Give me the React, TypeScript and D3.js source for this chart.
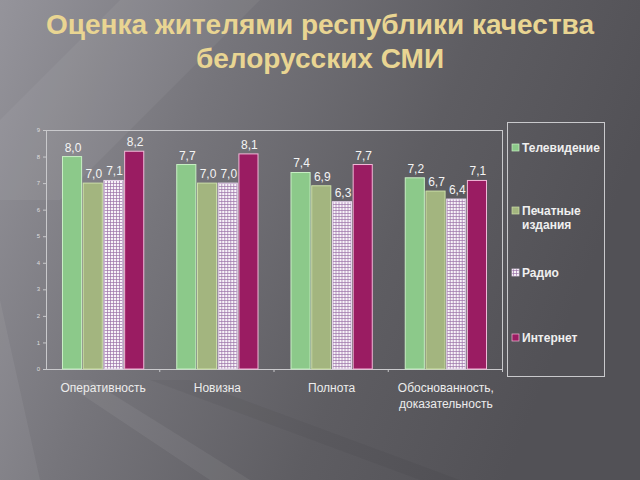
import * as d3 from "d3";

const categories = ["Оперативность", "Новизна", "Полнота", "Обоснованность, доказательность"];
const categoryLines = [["Оперативность"], ["Новизна"], ["Полнота"], ["Обоснованность,", "доказательность"]];
const seriesNames = ["Телевидение", "Печатные издания", "Радио", "Интернет"];
const legendLines = [["Телевидение"], ["Печатные", "издания"], ["Радио"], ["Интернет"]];
const tv = [8.0, 7.7, 7.4, 7.2];
const print = [7.0, 7.0, 6.9, 6.7];
const radio = [7.1, 7.0, 6.3, 6.4];
const internet = [8.2, 8.1, 7.7, 7.1];
const yTicks = [0, 1, 2, 3, 4, 5, 6, 7, 8, 9];

const W = 640;
const H = 480;
const PLOT = { left: 46, right: 503, top: 130, bottom: 369 };
const fills = ["#8cc98a", "#a3b57f", "url(#radioPat)", "#9a1c62"];
const strokes = ["#c8efc4", "#cde0a8", "#e8d8ee", "#f2b8d8"];
const legendSwatch = ["#8cc98a", "#a3b57f", "url(#radioPat)", "#9a1c62"];
const legendY = [148, 211, 273, 338];

export default function App() {
  const values = [tv, print, radio, internet];
  const x0 = d3.scaleBand<string>()
    .domain(categories)
    .range([PLOT.left, PLOT.right])
    .paddingInner(0.28)
    .paddingOuter(0.14);
  const x1 = d3.scaleBand<string>()
    .domain(seriesNames)
    .range([0, x0.bandwidth()])
    .paddingInner(0.03);
  const y = d3.scaleLinear().domain([0, 9]).range([PLOT.bottom, PLOT.top]);
  const fmt = (v: number) => v.toFixed(1).replace(".", ",");
  const step = x0.step();

  return (
    <svg width={W} height={H} style={{ position: "fixed", left: 0, top: 0 }} fontFamily="'Liberation Sans', Arial, sans-serif">
      <defs>
        <linearGradient id="bg" x1="0" y1="0" x2="1" y2="0.3">
          <stop offset="0" stopColor="#95949b" />
          <stop offset="0.35" stopColor="#76757b" />
          <stop offset="0.7" stopColor="#5e5d62" />
          <stop offset="1" stopColor="#525156" />
        </linearGradient>
        <pattern id="radioPat" width="3" height="3" patternUnits="userSpaceOnUse">
          <rect width="3" height="3" fill="#f7f3f8" />
          <path d="M0 0.5H3M0.5 0V3" stroke="#9b72a8" strokeWidth="0.7" />
        </pattern>
      </defs>
      <rect width={W} height={H} fill="url(#bg)" />
      <polygon points="0,300 0,480 40,480" fill="#ffffff" opacity={0.06} />
      <polygon points="60,380 210,480 250,480 90,380" fill="#ffffff" opacity={0.06} />
      <polygon points="150,380 420,480 460,480 190,380" fill="#000000" opacity={0.04} />
      <polygon points="120,0 260,0 60,200 0,200 0,120" fill="#ffffff" opacity={0.05} />

      <text x={320} y={34} textAnchor="middle" fontSize={28} fontWeight="bold" fill="#e9d592">
        Оценка жителями республики качества
      </text>
      <text x={320} y={68} textAnchor="middle" fontSize={28} fontWeight="bold" fill="#e9d592">
        белорусских СМИ
      </text>

      <g stroke="#c9c9cc" strokeWidth={1} fill="none">
        <line x1={PLOT.left} x2={PLOT.right} y1={PLOT.top + 0.5} y2={PLOT.top + 0.5} />
        <line x1={PLOT.right - 0.5} x2={PLOT.right - 0.5} y1={PLOT.top} y2={PLOT.bottom} />
        <line x1={PLOT.left + 0.5} x2={PLOT.left + 0.5} y1={PLOT.top} y2={PLOT.bottom} />
        <line x1={PLOT.left} x2={PLOT.right} y1={PLOT.bottom + 0.5} y2={PLOT.bottom + 0.5} />
      </g>

      {yTicks.map((t) => (
        <g key={t} transform={`translate(0,${y(t)})`}>
          <line x1={43} x2={PLOT.left} y1={0.5} y2={0.5} stroke="#c9c9cc" />
          <text x={40} dy="0.35em" textAnchor="end" fontSize={6} fill="#dcdcdf">{t}</text>
        </g>
      ))}
      {categories.map((c, i) => (
        <line key={c} x1={PLOT.left + step * (i + 1) - 0.5} x2={PLOT.left + step * (i + 1) - 0.5}
          y1={PLOT.bottom} y2={PLOT.bottom + 3} stroke="#c9c9cc" />
      ))}

      {categories.map((c, ci) => (
        <g key={c} transform={`translate(${x0(c)},0)`}>
          {seriesNames.map((s, si) => {
            const v = values[si][ci];
            const bx = x1(s)!;
            return (
              <g key={s}>
                <rect x={bx + 0.5} y={y(v)} width={x1.bandwidth() - 1} height={PLOT.bottom - y(v)}
                  fill={fills[si]} stroke={strokes[si]} strokeWidth={1} />
                <text x={bx + x1.bandwidth() / 2 + 1} y={y(v) - 5} textAnchor="middle" fontSize={12} fill="#f4f4f4">
                  {fmt(v)}
                </text>
              </g>
            );
          })}
        </g>
      ))}

      {categoryLines.map((lines, i) => (
        <text key={i} x={x0(categories[i])! + x0.bandwidth() / 2} y={392} textAnchor="middle" fontSize={12} fill="#ececec">
          {lines.map((l, j) => (
            <tspan key={j} x={x0(categories[i])! + x0.bandwidth() / 2} dy={j === 0 ? 0 : 16}>{l}</tspan>
          ))}
        </text>
      ))}

      <rect x={507.5} y={122.5} width={97} height={254} fill="none" stroke="#c9c9cc" />
      {seriesNames.map((s, i) => (
        <g key={s}>
          <rect x={512} y={legendY[i] - 4} width={7} height={7} fill={legendSwatch[i]} stroke={strokes[i]} strokeWidth={0.7} />
          <text x={522} y={legendY[i]} fontSize={12} fontWeight="bold" fill="#efefef">
            {legendLines[i].map((l, j) => (
              <tspan key={j} x={522} dy={j === 0 ? "0.35em" : 14}>{l}</tspan>
            ))}
          </text>
        </g>
      ))}
    </svg>
  );
}
